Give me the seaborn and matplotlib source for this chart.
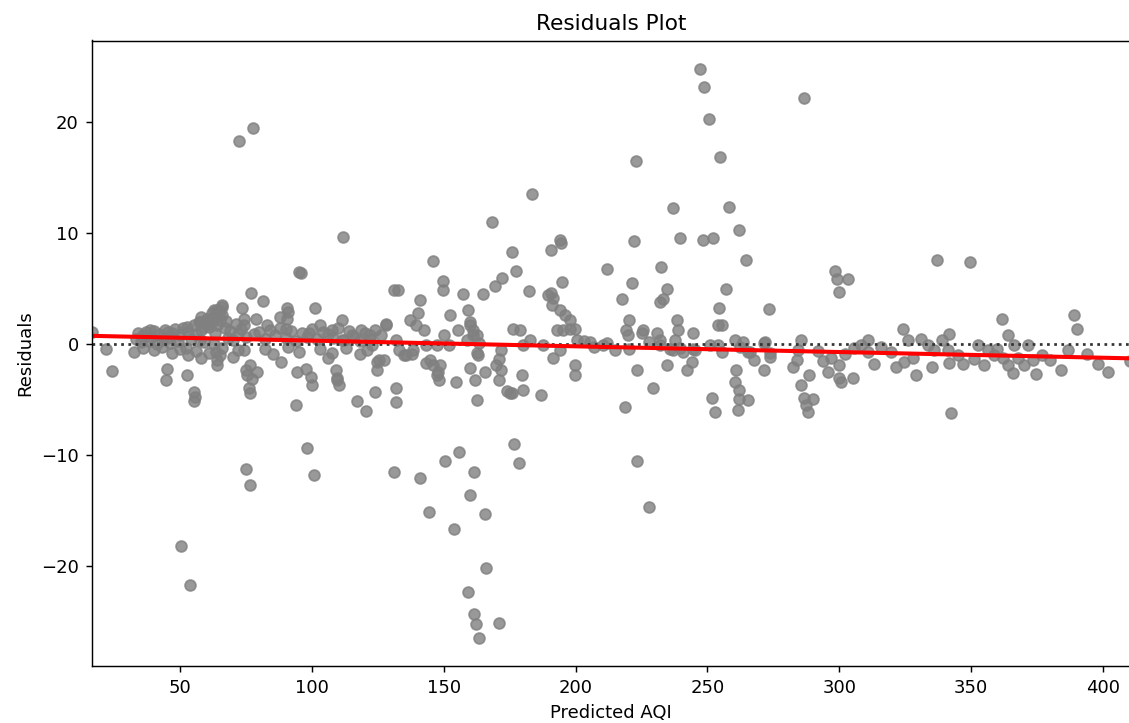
import numpy as np
import pandas as pd
import matplotlib
matplotlib.use("Agg")
import matplotlib.pyplot as plt
import seaborn as sns

# (predicted AQI, residual) pairs, grouped by region
left_points = [
    (16.3, 1.1), (21.7, -0.4), (24.0, -2.4), (32.3, -0.7), (44.9, -2.2), (44.5, -3.2),
    (50.2, -18.2), (53.6, -21.7), (52.5, -2.8), (55.1, -4.3), (55.1, -5.1), (55.6, -4.7),
    (64.0, -1.9), (72.3, 18.3), (77.6, 19.5), (74.9, -11.2), (76.4, -12.7), (74.9, -2.3),
    (77.2, -3.1), (76.1, -3.9), (76.4, -4.4), (76.8, 4.6), (81.4, 3.9), (73.4, 3.3),
    (74.2, 2.3), (78.7, 2.3), (74.2, 1.7), (65.8, 3.5), (62.7, 3.1), (60.1, 2.3),
    (57.4, 2.0), (88.2, -1.6), (90.5, 3.3), (90.5, 2.3), (90.1, 1.4), (93.9, -5.5),
    (94.3, -2.5), (95.1, 6.5), (95.6, 6.4), (97.7, -2.2), (98.1, -9.3), (99.6, -2.9),
    (100.0, -3.7), (100.8, -11.8), (101.2, 3.3), (103.1, 1.7), (109.6, -3.0), (110.3, -3.7),
    (111.8, 9.7), (117.2, -5.1), (120.6, -6.0), (124.0, -4.3), (124.8, -1.6), (128.1, 1.8),
    (107.7, 1.3), (111.5, 2.2), (111.5, 0.4), (115.3, 0.8), (118.7, 1.3), (121.8, 0.8),
    (122.9, -0.1), (107.7, -0.8), (109.2, -2.3), (109.6, -3.2), (121.0, -0.5), (125.5, -1.4),
    (124.8, -2.3), (128.2, 1.7), (63.4, -0.7), (64.1, -1.4), (62.9, 0.0), (65.1, -1.0),
    (74.2, -0.5), (76.4, -1.9), (75.3, -2.8), (79.0, -2.5), (88.0, 2.5), (91.0, 2.9),
]

dense_points = [
    (33, 0.5), (34, 1.0), (35, 0.2), (36, 0.8), (37, 1.1), (38, 0.3), (39, 0.7), (40, 1.2),
    (41, 0.0), (42, 0.9), (43, 0.4), (44, 1.3), (45, 0.6), (46, 0.1), (47, 1.0), (48, 1.4),
    (49, 0.3), (50, 0.8), (51, 1.5), (52, -0.3), (53, 1.1), (54, 0.5), (55, 1.7), (56, 0.9),
    (57, 2.0), (58, 1.3), (59, 0.2), (60, 2.3), (61, 1.6), (62, 2.8), (63, 1.0), (64, 3.1),
    (65, 2.2), (66, 3.4), (67, 1.5), (68, 0.6), (69, 1.2), (70, 0.4), (71, 1.8), (72, 0.9),
    (73, 1.4), (75, 0.7), (80, 1.1), (82, 0.5), (84, 1.3), (86, 0.8), (88, 1.5), (90, 0.6),
    (92, 1.2), (94, 0.3), (96, 1.0), (98, 0.7), (100, 1.4), (102, 0.5), (104, 1.1), (106, 0.9),
    (108, 0.6), (110, 1.5), (112, 0.4), (114, 1.2), (116, 0.7), (118, 0.3), (120, 1.0), (122, 0.5),
    (124, 1.3), (126, 0.8), (36, -0.3), (40, -0.5), (43, -0.2), (47, -0.8), (50, -0.4), (53, -1.0),
    (56, -0.6), (58, -1.2), (61, -0.8), (66, -0.3), (70, -1.1), (72, -0.5), (82, -0.4), (85, -0.9),
    (91, -0.2), (95, -0.7), (103, -0.4), (106, -1.2), (113, -0.3), (118, -0.9), (58, 2.5), (60, 1.8),
    (62, 2.0), (63, 2.5), (64, 1.7), (65, 3.0), (66, 2.6), (59, 1.6), (38.5, 1.3), (45.5, 1.1),
    (52.5, 1.6), (57.5, 0.4), (67.5, 2.1), (78, 0.9), (83, 1.7), (99, 1.0),
]

mid_points = [
    (130.9, -11.5), (131.2, 4.9), (131.9, -3.9), (131.9, -5.2), (132.7, 4.9), (127.4, -1.4),
    (135.0, -1.0), (138.0, -0.9), (133.1, -0.5), (135.8, -1.0), (138.1, -0.5), (132.0, 0.4),
    (137.0, 2.2), (139.6, 1.7), (140.0, 2.8), (141.1, 4.0), (141.1, -12.0), (142.6, 1.3),
    (143.4, -0.1), (143.4, -1.7), (144.2, -15.1), (144.6, -1.4), (145.7, 7.5), (145.7, -1.9),
    (147.2, -0.1), (147.2, -2.8), (147.6, -2.5), (148.0, -3.2), (148.4, -1.9), (149.5, 5.7),
    (149.5, 4.9), (150.2, 0.8), (150.6, -10.5), (152.1, -0.1), (152.5, 2.6), (153.7, -16.6),
    (154.7, -3.4), (155.2, 1.3), (155.6, -9.7), (157.1, 4.5), (158.6, 0.4), (159.0, 3.1),
    (159.0, -22.3), (159.8, 2.0), (159.8, 1.7), (159.8, -2.1), (159.8, -13.6), (161.0, 1.3),
    (161.0, 0.8), (161.3, -11.5), (161.3, -24.3), (161.7, -3.2), (162.0, -25.2), (162.4, -5.0),
    (162.4, -0.8), (162.4, 0.8), (162.8, -1.0), (163.2, 0.1), (163.2, -26.4), (165.0, 4.5),
    (165.5, -15.3), (165.7, -2.5), (165.9, -20.1), (168.1, 11.0), (169.4, 5.3), (169.8, -1.9),
    (171.0, -1.3), (171.0, -3.2), (171.0, -25.1), (171.8, -0.5), (171.8, -2.3), (172.0, 6.0),
    (174.0, -4.2), (174.9, -4.4), (175.7, 8.3), (176.0, -4.4), (176.1, 1.4), (176.5, -9.0),
    (177.3, 6.6), (178.4, -10.7), (178.8, 1.3), (179.5, -2.8), (180.0, -4.1), (180.0, -0.1),
    (182.2, 4.8), (182.6, 0.4), (183.4, 13.5), (186.8, -4.6), (187.5, -0.1), (189.4, 4.4),
    (190.6, 8.5), (190.6, 4.6), (191.0, 3.5), (191.4, 4.2), (191.4, -1.2), (192.9, 1.3),
    (194.0, 9.4), (194.5, 9.1), (194.0, 3.1), (194.0, -0.5), (194.8, 5.6), (195.2, 1.3),
    (196.0, 2.6), (197.8, 2.2), (197.8, 1.4), (199.7, 1.4), (199.7, -1.9), (199.7, -2.8),
    (200.5, 0.4), (203.0, 0.3), (205.4, 0.2), (207.0, -0.2), (210.4, -0.1), (211.9, 6.8),
    (212.0, 0.1), (214.9, -0.5), (217.6, 4.1), (218.8, -5.6), (219.1, 1.3), (219.9, 0.8),
    (220.3, 2.2), (220.3, -0.4), (221.4, 5.5), (222.1, 9.3), (222.9, 16.5), (223.3, -2.3),
    (223.3, -10.5), (225.2, 1.0), (225.6, 1.3), (227.9, 0.2), (227.9, -14.6), (229.4, -3.9),
    (230.9, 1.0), (231.9, -0.1), (232.0, 3.8), (232.0, 0.4), (232.4, 7.0), (233.2, 4.1),
    (234.7, 5.0), (234.7, -1.9), (235.9, -0.4), (236.8, -0.5), (237.0, 12.3), (237.8, 0.4),
    (238.6, 2.2), (239.0, 1.3), (239.6, 9.6), (239.6, -0.3), (240.6, -0.7), (242.3, -2.3),
    (244.2, -1.6), (244.6, 1.0), (244.6, -0.4), (245.3, -0.5), (247.3, 24.8), (248.4, 9.4),
    (248.8, 23.2), (250.7, 20.3), (251.0, -0.1), (251.8, -4.8), (252.2, 9.6), (253.0, -6.1),
    (254.1, 1.7), (254.1, -0.1), (254.5, 3.3), (254.9, 16.9), (255.6, -0.7), (255.7, 1.7),
    (257.2, 5.0), (258.3, 12.4), (260.6, 0.4), (260.6, -3.4), (261.4, -5.9), (261.8, 10.3),
    (261.8, -4.9), (262.5, -0.2), (263.3, 0.2), (264.8, 7.6), (265.2, -5.0), (265.2, -0.7),
    (266.3, -0.7), (267.5, -1.4), (261.0, -2.3), (262.0, -4.1),
]

right_points = [
    (271.6, 0.1), (271.6, -2.3), (272.0, 0.2), (273.5, 3.2), (273.8, -0.8), (273.9, -1.1),
    (282.6, -2.0), (285.3, 0.4), (284.5, -0.5), (284.1, -1.4), (285.3, -3.7), (288.4, -2.8),
    (286.5, -4.8), (288.0, -6.1), (289.9, -4.9), (287.5, -5.5), (286.5, 22.2), (296.7, -1.2),
    (299.8, -1.9), (295.9, -2.5), (299.8, -3.0), (300.6, -3.4), (305.1, -3.0), (298.2, 6.6),
    (299.0, 5.9), (303.2, 5.9), (299.8, 4.7), (305.5, -0.3), (308.2, -0.1), (310.8, 0.4),
    (310.8, -0.7), (319.5, -0.7), (321.5, -2.0), (324.5, -1.6), (329.1, -2.8), (324.1, 1.4),
    (326.1, 0.4), (331.1, 0.5), (333.8, -0.1), (336.1, -0.5), (338.8, 0.4), (341.4, -0.5),
    (341.8, -1.7), (345.2, -1.0), (337.1, 7.6), (349.6, 7.4), (341.6, 0.9), (342.4, -6.2),
    (352.6, -0.1), (356.5, -0.5), (358.7, -1.0), (362.1, -1.2), (364.0, -1.9), (366.0, -2.6),
    (366.4, -0.1), (371.7, -0.1), (373.6, -1.4), (374.8, -2.7), (361.7, 2.3), (364.0, 0.8),
    (384.2, -2.3), (386.9, -0.5), (389.2, 2.6), (390.3, 1.4), (402.1, -2.5), (410.5, -1.5),
    (292.0, -0.6), (294.0, -1.5), (302.0, -0.9), (313.0, -1.8), (316.0, -0.2), (328.0, -1.2),
    (335.0, -2.0), (347.0, -1.8), (351.0, -1.3), (355.0, -1.9), (360.0, -0.4), (368.0, -1.2),
    (370.0, -1.9), (377.0, -1.0), (380.0, -1.4), (394.0, -0.9), (398.0, -1.8),
]

df = pd.DataFrame(left_points + dense_points + mid_points + right_points,
                  columns=["Predicted AQI", "Residuals"])


def robust_line(x, y, n_iter=6):
    # straight line fit with bisquare reweighting, so the outliers barely pull it
    w = np.ones_like(y)
    for _ in range(n_iter):
        coef = np.polyfit(x, y, 1, w=np.sqrt(w))
        r = y - np.polyval(coef, x)
        s = np.median(np.abs(r))
        u = np.clip(r / (6 * s), -1, 1)
        w = (1 - u ** 2) ** 2
    return coef


x = df["Predicted AQI"].to_numpy()
y = df["Residuals"].to_numpy()
coef = robust_line(x, y)
trend = pd.DataFrame({"Predicted AQI": [x.min(), x.max()]})
trend["Residuals"] = np.polyval(coef, trend["Predicted AQI"])

fig = plt.figure(figsize=(1129 / 130, 723 / 130), dpi=130)
ax = fig.add_axes([91.5 / 1129, 57 / 723, 1039 / 1129, 625.5 / 723])

# zero reference line, like residplot draws it
ax.axhline(0, ls=":", c=".2")
sns.regplot(data=df, x="Predicted AQI", y="Residuals", fit_reg=False, color="gray", ax=ax)
sns.lineplot(data=trend, x="Predicted AQI", y="Residuals", color="red", lw=2.25, ax=ax)
ax.set_xlim(x.min(), x.max())

ax.set_title("Residuals Plot")
ax.set_xlabel("Predicted AQI")
ax.set_ylabel("Residuals")

fig.savefig("out.png", dpi=130)
